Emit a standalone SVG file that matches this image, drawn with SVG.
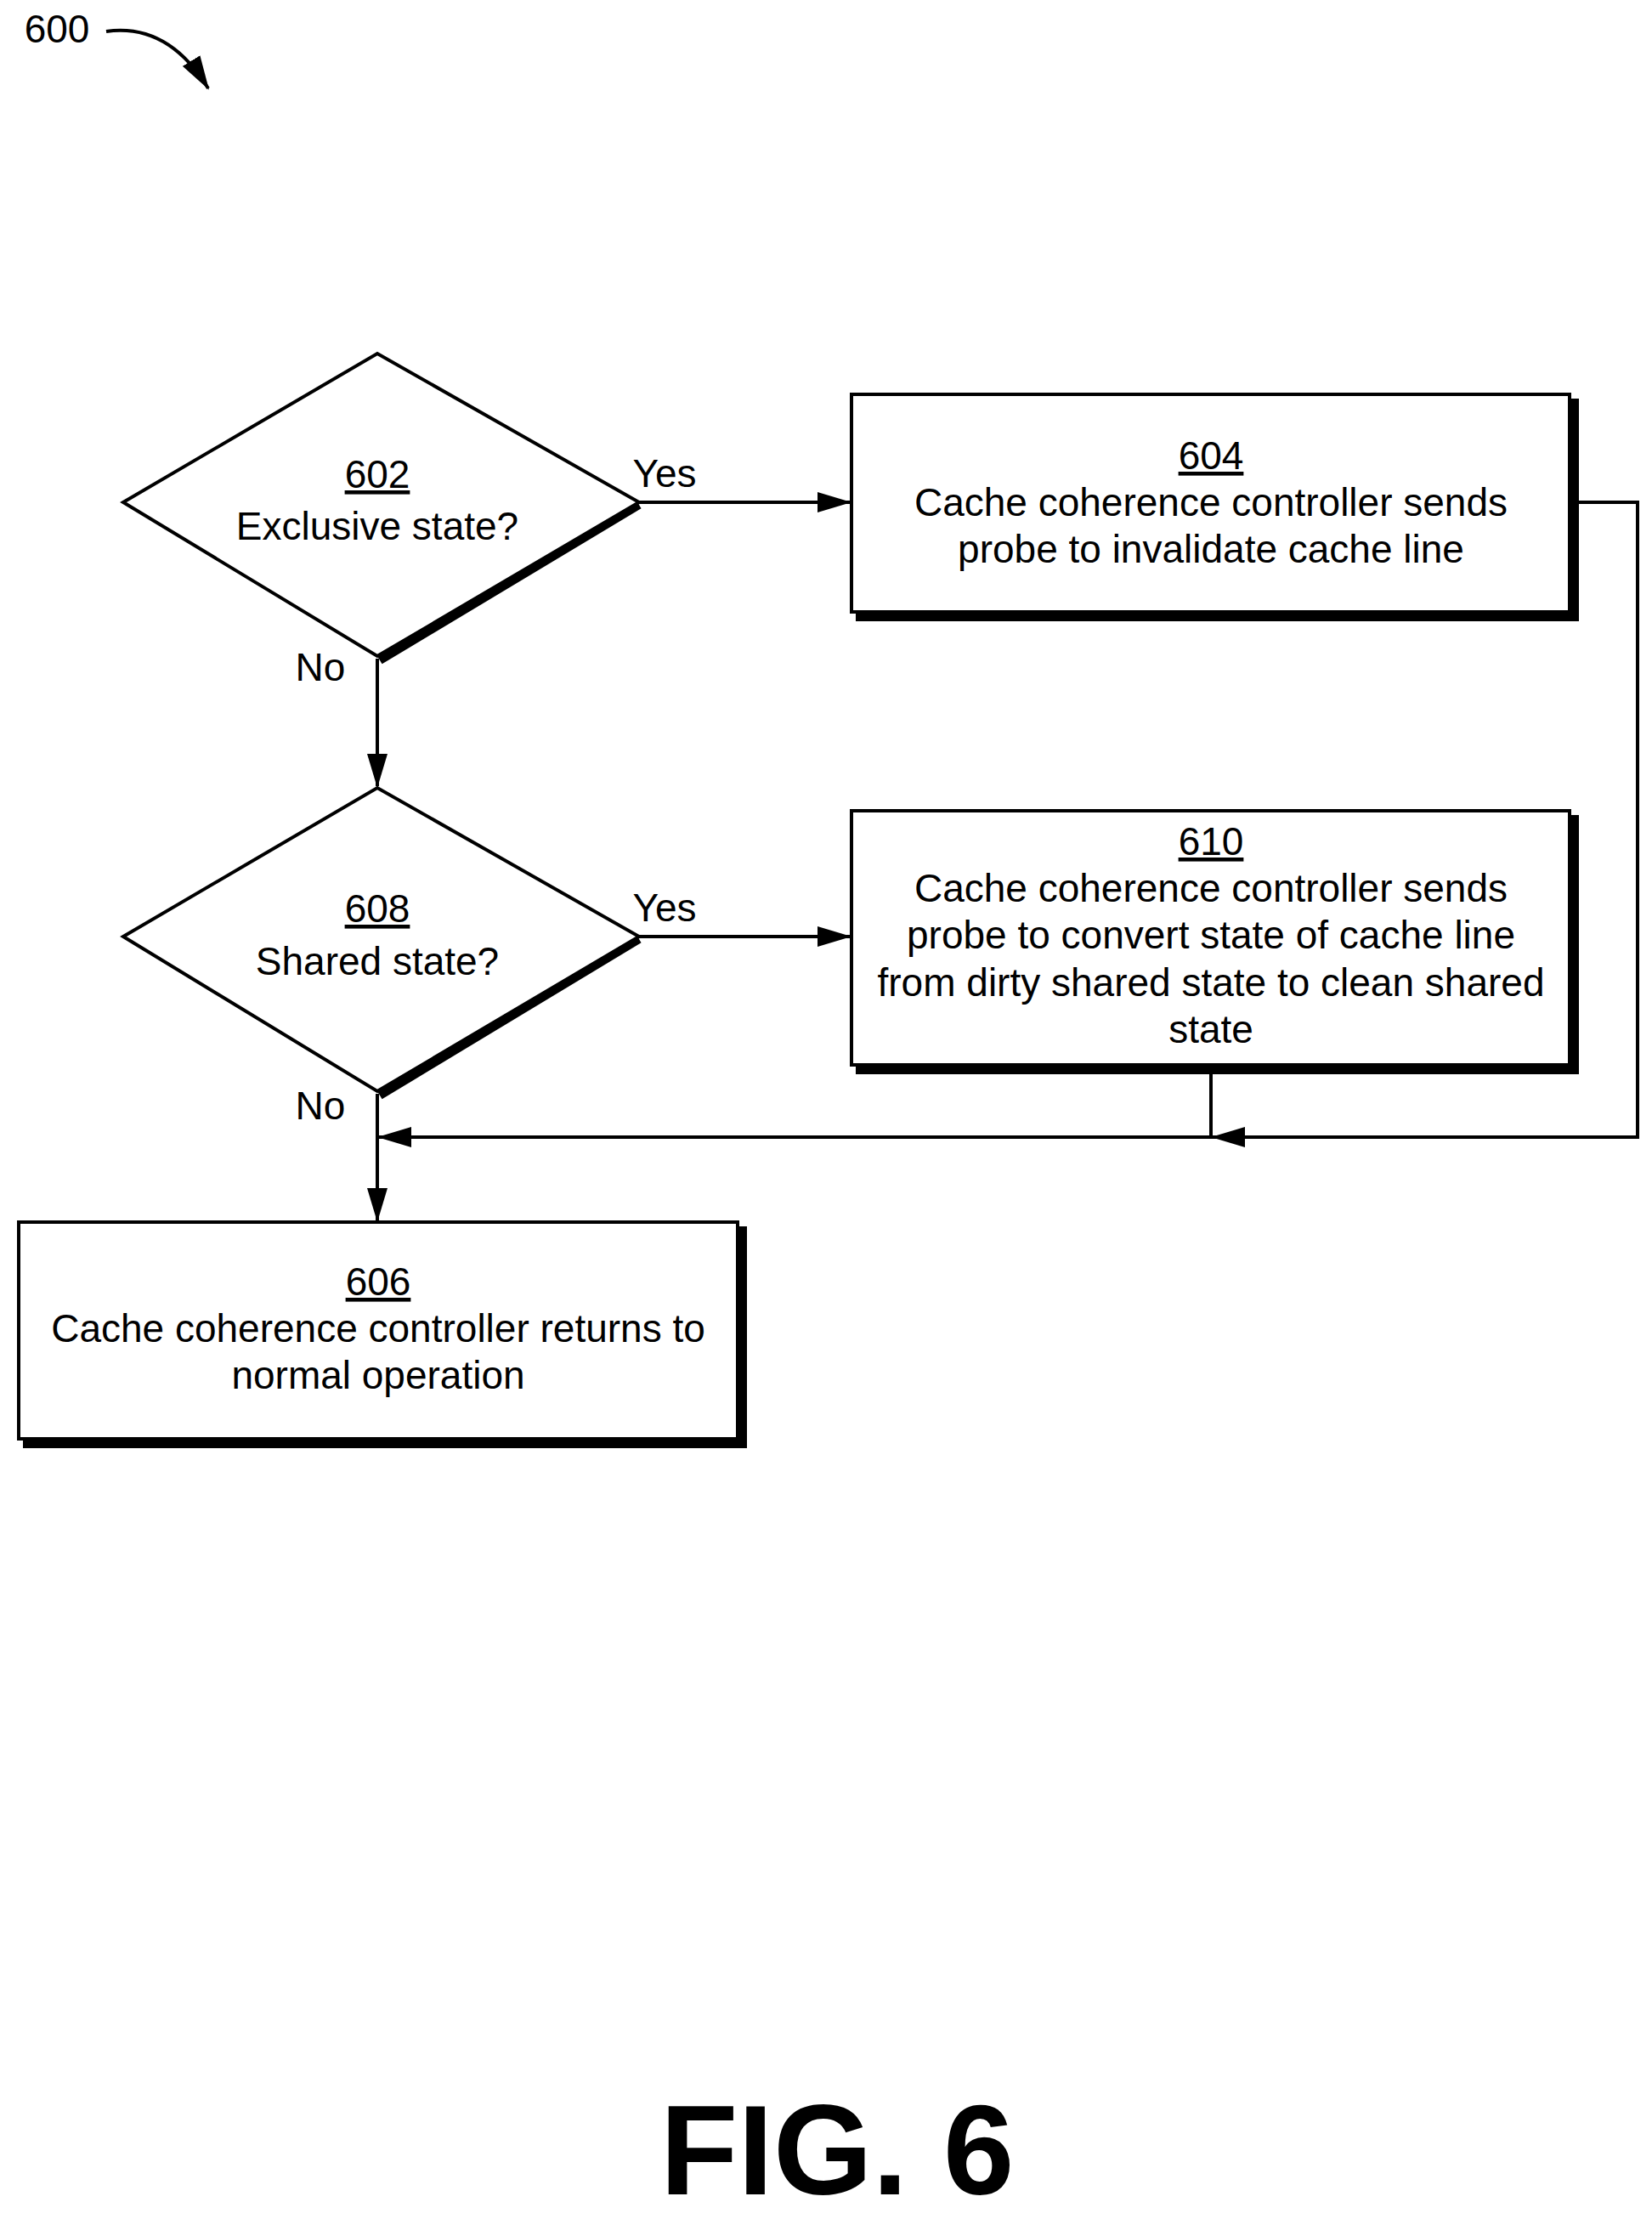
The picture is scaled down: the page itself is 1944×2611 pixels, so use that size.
<svg xmlns="http://www.w3.org/2000/svg" width="1944" height="2611" viewBox="0 0 1944 2611">
<style>
text{font-family:"Liberation Sans",Arial,sans-serif;font-size:46px;fill:#000;text-anchor:middle}
.s{fill:#fff;stroke:#000;stroke-width:4}
.sh{fill:none;stroke:#000;stroke-width:10}
.c{fill:none;stroke:#000;stroke-width:4}
</style>
<defs><marker id="a" markerWidth="40" markerHeight="24" refX="38" refY="12" orient="auto" markerUnits="userSpaceOnUse"><path d="M0,0L40,12L0,24z"/></marker></defs>
<rect width="1944" height="2611" fill="#fff"/>
<g id="ref600"><text x="67" y="50">600</text><path class="c" d="M125,37C175,30 215,55 245,104" marker-end="url(#a)"/></g>
<g id="n602"><polyline class="sh" points="752,594 447,777"/><polygon class="s" points="145,591 444,416 752,591 444,772"/><text x="444" y="574" text-decoration="underline">602</text><text x="444" y="635">Exclusive state?</text></g>
<g id="n604"><polyline class="sh" points="1853,469 1853,726 1007,726"/><rect class="s" x="1002" y="464" width="845" height="256"/><text x="1425" y="552" text-decoration="underline">604</text><text x="1425" y="607">Cache coherence controller sends</text><text x="1425" y="662">probe to invalidate cache line</text></g>
<g id="n608"><polyline class="sh" points="752,1105 447,1289"/><polygon class="s" points="145,1102 444,927 752,1102 444,1284"/><text x="444" y="1085" text-decoration="underline">608</text><text x="444" y="1147">Shared state?</text></g>
<g id="n610"><polyline class="sh" points="1853,959 1853,1259 1007,1259"/><rect class="s" x="1002" y="954" width="845" height="299"/><text x="1425" y="1006" text-decoration="underline">610</text><text x="1425" y="1061">Cache coherence controller sends</text><text x="1425" y="1116">probe to convert state of cache line</text><text x="1425" y="1172">from dirty shared state to clean shared</text><text x="1425" y="1227">state</text></g>
<g id="n606"><polyline class="sh" points="874,1443 874,1699 27,1699"/><rect class="s" x="22" y="1438" width="846" height="255"/><text x="445" y="1524" text-decoration="underline">606</text><text x="445" y="1579">Cache coherence controller returns to</text><text x="445" y="1634">normal operation</text></g>
<g id="connectors">
<path class="c" d="M752,591H1000" marker-end="url(#a)"/>
<path class="c" d="M444,775V925" marker-end="url(#a)"/>
<path class="c" d="M752,1102H1000" marker-end="url(#a)"/>
<path class="c" d="M444,1287V1436" marker-end="url(#a)"/>
<path class="c" d="M1847,591H1927V1338H1427" marker-end="url(#a)"/>
<path class="c" d="M1425,1259V1338H446" marker-end="url(#a)"/>
<text x="782" y="573">Yes</text><text x="377" y="801">No</text>
<text x="782" y="1084">Yes</text><text x="377" y="1317">No</text>
</g>
<text x="985" y="2582" style="font-size:150px;font-weight:bold">FIG. 6</text>
</svg>
